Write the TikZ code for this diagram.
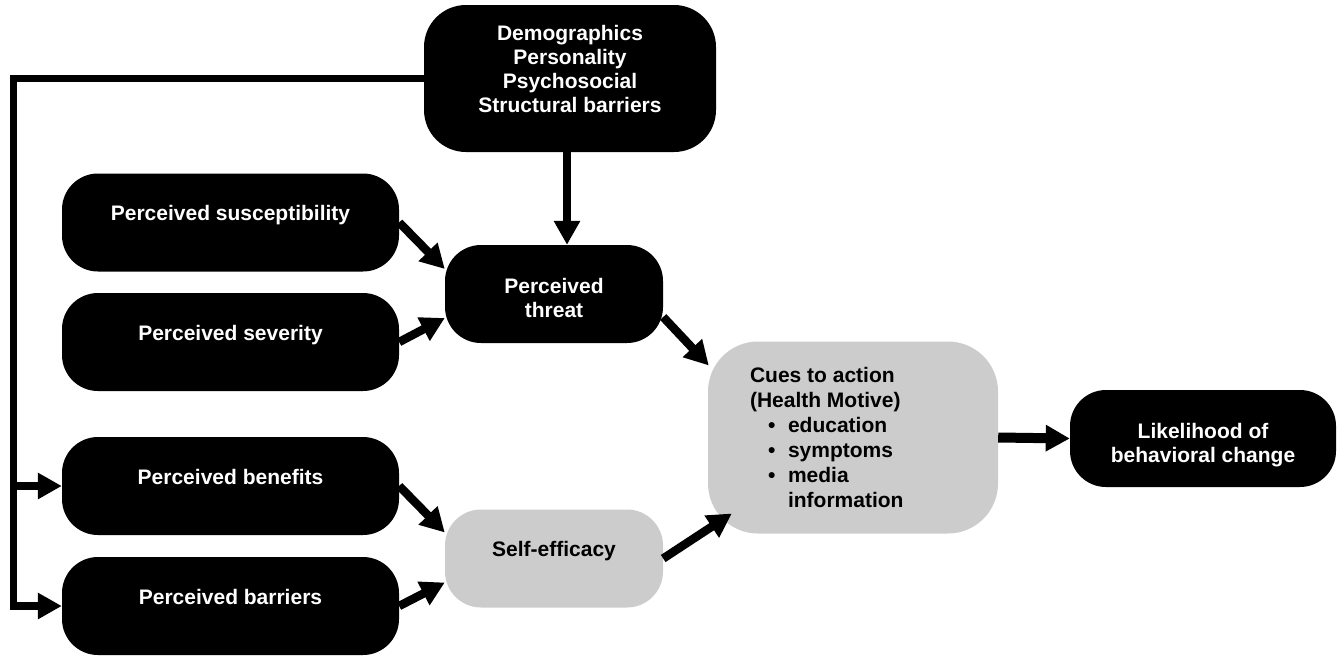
\documentclass[tikz,border=0pt]{standalone}
\usepackage{fontspec}
\setmainfont{Liberation Sans}
\usetikzlibrary{arrows.meta,calc}

\definecolor{cuegrey}{RGB}{204,204,204}

\tikzset{
  x=1pt, y=-1pt,
  box/.style={rectangle, rounded corners=36pt, fill=black, draw=none,
    inner sep=0pt, minimum width=337pt, minimum height=98pt},
  greybox/.style={box, fill=cuegrey},
  txt/.style={inner sep=0pt, text=white, align=center,
    font=\bfseries\fontsize{21}{24}\selectfont},
  dtxt/.style={txt, text=black},
  arr/.style={line width=8.5pt, -{Triangle[length=24pt,width=25pt]}},
  rail/.style={line width=7pt}
}

\begin{document}
\begin{tikzpicture}
\useasboundingbox (0,0) rectangle (1340,656);

% boxes
\node[box, minimum width=292pt, minimum height=147pt, rounded corners=42pt] (demo) at (570,78.5) {};
\node[box] (sus) at (230.5,222.5) {};
\node[box] (sev) at (230.5,342) {};
\node[box] (ben) at (230.5,486) {};
\node[box] (bar) at (230.5,606) {};
\node[box, minimum width=218pt] (threat) at (554,294) {};
\node[greybox, minimum width=218pt] (se) at (554,558.5) {};
\node[greybox, minimum width=290pt, minimum height=192pt, rounded corners=50pt] (cues) at (853,437.5) {};
\node[box, minimum width=266pt, minimum height=97pt] (like) at (1203,438.5) {};

% labels
\node[txt] (demo-t) at ([yshift=10pt]demo.center)
  {Demographics\\Personality\\Psychosocial\\Structural barriers};
\node[txt, anchor=base] (sus-t) at ([yshift=2pt]sus.center) {Perceived susceptibility};
\node[txt, anchor=base] (sev-t) at ([yshift=2pt]sev.center) {Perceived severity};
\node[txt, anchor=base] (ben-t) at ([yshift=2pt]ben.center) {Perceived benefits};
\node[txt, anchor=base] (bar-t) at ([yshift=2pt]bar.center) {Perceived barriers};
\node[txt] (threat-t) at ([yshift=-4pt]threat.center) {Perceived\\threat};
\node[dtxt, anchor=base] (se-t) at ([yshift=2pt]se.center) {Self-efficacy};
\node[txt] (like-t) at ([yshift=-7pt]like.center) {Likelihood of\\behavioral change};
\node[dtxt, align=left, anchor=west, font=\bfseries\fontsize{21}{25}\selectfont]
  (cues-t) at ([xshift=42pt]cues.west)
  {Cues to action\\(Health Motive)\\
   \makebox[38pt][l]{\hspace{18pt}\textbullet}education\\
   \makebox[38pt][l]{\hspace{18pt}\textbullet}symptoms\\
   \makebox[38pt][l]{\hspace{18pt}\textbullet}media\\
   \makebox[38pt][l]{}information};

% left rail feeding benefits and barriers
\coordinate (railtop) at (13,78.5);
\draw[rail] (demo.west) -- ([xshift=-3.5pt]railtop);
\draw[rail, line cap=rect] (railtop) -- (railtop |- bar.west);
\draw[arr] (railtop |- ben.west) -- (ben.west);
\draw[arr] ([xshift=-3.5pt]railtop |- bar.west) -- (bar.west);

% main connectors
\draw[arr] ([xshift=-3pt]demo.south) -- ([xshift=-3pt]demo.south |- threat.north);
\draw[arr] (sus.east) -- ([yshift=25pt]threat.west);
\draw[arr] (sev.east) -- ([yshift=-24pt]threat.west);
\draw[arr] ([yshift=-23pt]threat.east) -- ([shift={(1pt,72pt)}]cues.west);
\draw[arr] (ben.east) -- ([yshift=26pt]se.west);
\draw[arr] (bar.east) -- ([yshift=-24pt]se.west);
\draw[arr] (se.east) -- ([shift={(24pt,-76pt)}]cues.west);
\draw[arr, line width=10pt] (cues.east) -- (like.west);
\end{tikzpicture}
\end{document}
